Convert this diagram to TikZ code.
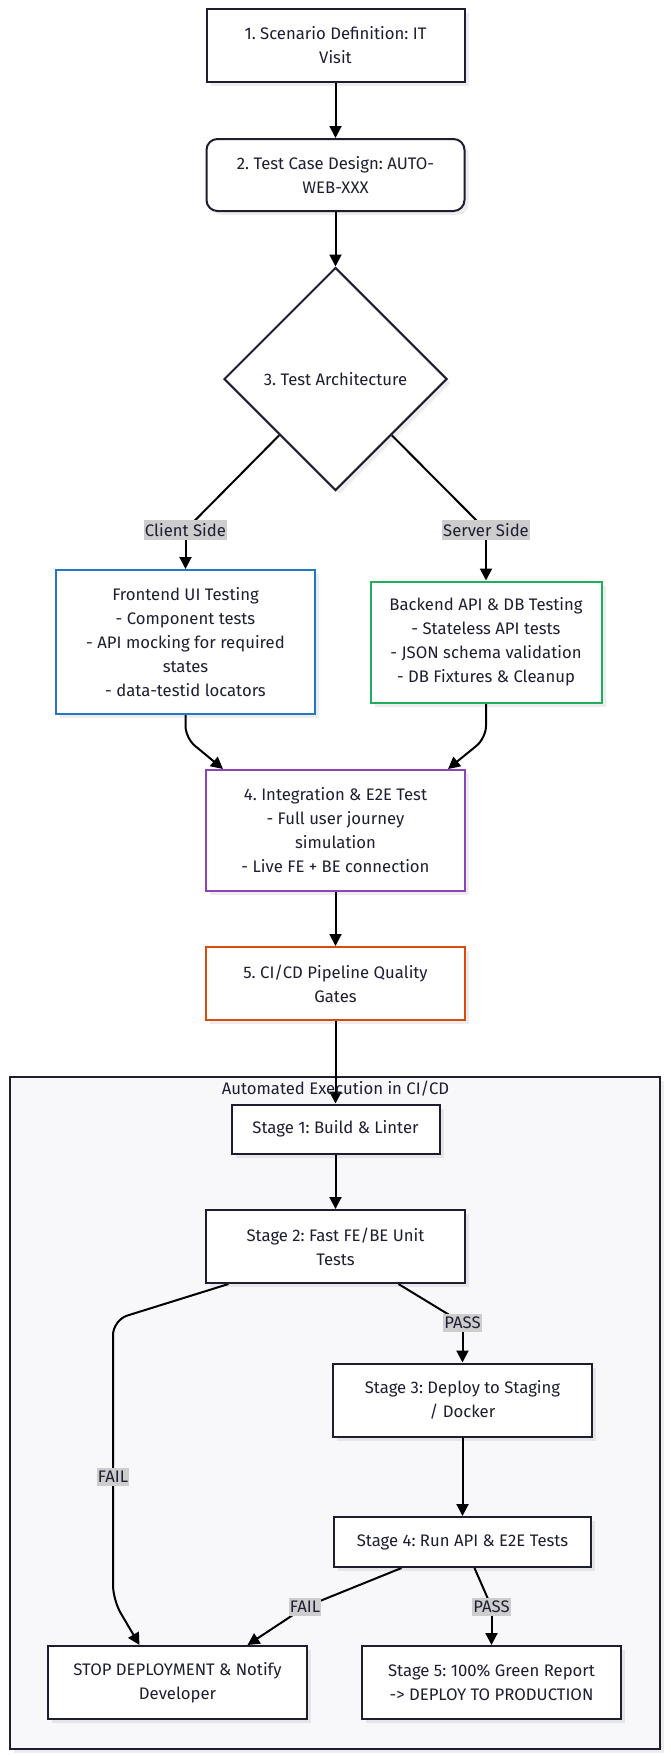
\documentclass[tikz,border=0pt]{standalone}
\usepackage{fontspec}
\setmainfont{Fira Sans}
\frenchspacing
\usetikzlibrary{shapes.geometric,arrows.meta,shadows,calc}
\definecolor{ink}{HTML}{1E1E32}
\definecolor{feblue}{HTML}{2378C3}
\definecolor{begreen}{HTML}{22AD5C}
\definecolor{intpurple}{HTML}{8E44B8}
\definecolor{cdorange}{HTML}{DC4A10}
\definecolor{lblgray}{HTML}{CDCDCD}
\definecolor{clfill}{HTML}{F8F8FB}
\pgfdeclarelayer{bg}
\pgfdeclarelayer{edges}
\pgfsetlayers{bg,edges,main}
\tikzset{
  shad/.style={drop shadow={shadow xshift=4pt,shadow yshift=-4pt,fill=black,opacity=0.07}},
  box/.style={draw=ink,line width=2pt,fill=white,shad,inner sep=0pt,align=center,
    font=\fontsize{16.7}{24}\selectfont,text=ink},
  decis/.style={diamond,aspect=1,draw=ink,line width=2pt,fill=white,shad,inner sep=0pt,
    font=\fontsize{16.7}{24}\selectfont,text=ink,minimum width=223pt,minimum height=223pt},
  lbl/.style={fill=lblgray,inner xsep=1pt,inner ysep=3pt,font=\fontsize{16.7}{18}\selectfont,text=ink},
  arr/.style={line width=2pt,draw=black,-{Triangle[length=12pt,width=12pt]}},
  ln/.style={line width=2pt,draw=black},
}
\begin{document}
\begin{tikzpicture}[x=1pt,y=-1pt]
\useasboundingbox (0,0) rectangle (670,1756);
\begin{pgfonlayer}{bg}
\fill[white] (0,0) rectangle (670,1756);
\draw[draw=ink,fill=clfill,line width=2pt,shad] (10,1077) rectangle (660,1749);
\end{pgfonlayer}
\node[text=ink,font=\fontsize{16.7}{18}\selectfont] (cltitle) at (335.5,1089) {Automated Execution in CI/CD};

\node[box,minimum width=258pt,minimum height=73pt] (b1) at (335.5,45.5) {1. Scenario Definition: IT\\Visit};
\node[box,rounded corners=11pt,minimum width=258pt,minimum height=72pt] (b2) at (335.5,175) {2. Test Case Design: AUTO-\\WEB-XXX};
\node[decis] (dia) at (335.5,379) {3. Test Architecture};
\node[lbl] (cl) at (185.5,530) {Client Side};
\node[lbl] (sl) at (486,530) {Server Side};
\node[box,draw=feblue,minimum width=259pt,minimum height=144pt] (fe) at (185.5,642) {Frontend UI Testing\\- Component tests\\- API mocking for required\\states\\- data-testid locators};
\node[box,draw=begreen,minimum width=231pt,minimum height=121pt] (be) at (486,642) {Backend API \& DB Testing\\- Stateless API tests\\- JSON schema validation\\- DB Fixtures \& Cleanup};
\node[box,draw=intpurple,minimum width=259pt,minimum height=121pt] (b4) at (335.5,830.5) {4. Integration \& E2E Test\\- Full user journey\\simulation\\- Live FE + BE connection};
\node[box,draw=cdorange,minimum width=259pt,minimum height=73pt] (b5) at (335.5,983.5) {5. CI/CD Pipeline Quality\\Gates};

\node[box,minimum width=208pt,minimum height=49pt] (s1) at (335.5,1129) {Stage 1: Build \& Linter};
\node[box,minimum width=259pt,minimum height=73pt] (s2) at (335.5,1246.5) {Stage 2: Fast FE/BE Unit\\Tests};
\node[box,minimum width=259pt,minimum height=73pt] (s3) at (462.5,1400) {Stage 3: Deploy to Staging\\/ Docker};
\node[box,minimum width=257pt,minimum height=50pt] (s4) at (462.5,1542) {Stage 4: Run API \& E2E Tests};
\node[box,minimum width=259pt,minimum height=73pt] (stop) at (177.5,1682.5) {STOP DEPLOYMENT \& Notify\\Developer};
\node[box,minimum width=259pt,minimum height=73pt] (s5) at (491.5,1682.5) {Stage 5: 100\% Green Report\\-> DEPLOY TO PRODUCTION};

\node[lbl] (pass1) at (462.5,1323) {PASS};
\node[lbl] (fail1) at (113,1477) {FAIL};
\node[lbl] (fail2) at (305,1607) {FAIL};
\node[lbl] (pass2) at (491.5,1607) {PASS};

\begin{pgfonlayer}{edges}
\draw[arr] (b1.south) -- (b2.north);
\draw[arr] (b2.south) -- (dia.north);
\draw[ln] (dia.south west) -- (cl.center);
\draw[arr] (cl.center) -- (fe.north);
\draw[ln] (dia.south east) -- (sl.center);
\draw[arr] (sl.center) -- (be.north);
\draw[arr,rounded corners=12pt] (fe.south) -- (185.5,738) -- ($(b4.north west)+(18,0)$);
\draw[arr,rounded corners=12pt] (be.south) -- (486,738) -- ($(b4.north east)+(-18,0)$);
\draw[arr] (b4.south) -- (b5.north);
\draw[arr] (b5.south) -- (s1.north);
\draw[arr] (s1.south) -- (s2.north);
\draw[ln] ($(s2.south)+(63,0)$) -- (pass1.center);
\draw[arr] (pass1.center) -- (s3.north);
\draw[arr,rounded corners=15pt] ($(s2.south)+(-107,0)$) -- (113,1320) -- (fail1.center) -- (113,1600) -- ($(stop.north)+(-38,0)$);
\draw[arr] (s3.south) -- (s4.north);
\draw[ln] ($(s4.south)+(-61,0)$) -- (fail2.center);
\draw[arr] (fail2.center) -- ($(stop.north)+(70,0)$);
\draw[ln] ($(s4.south)+(12,0)$) -- (pass2.center);
\draw[arr] (pass2.center) -- (s5.north);
\end{pgfonlayer}
\end{tikzpicture}
\end{document}
